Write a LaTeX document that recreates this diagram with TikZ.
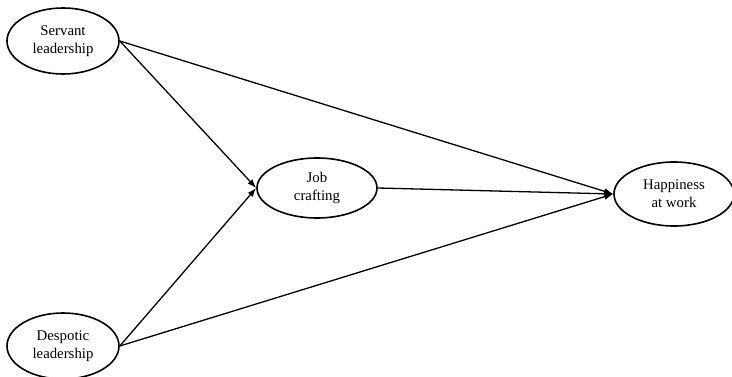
\documentclass[tikz,border=0pt]{standalone}
\usepackage{fontspec}
\setmainfont{Liberation Serif}
\usetikzlibrary{shapes.geometric,arrows.meta}
\begin{document}
\begin{tikzpicture}[x=1pt,y=-1pt,
  latent/.style={ellipse,draw,line width=1.6pt,inner sep=0pt,align=center,
    font=\fontsize{14.8}{18}\selectfont},
  path/.style={line width=1.3pt,-{Latex[length=9pt,width=6.5pt]}}]
\useasboundingbox (0,0) rectangle (732,377);
\node[latent,minimum width=112pt,minimum height=66pt] (S) at (63,41) {Servant\\leadership};
\node[latent,minimum width=112pt,minimum height=66pt] (D) at (63,346) {Despotic\\leadership};
\node[latent,minimum width=120pt,minimum height=60pt] (J) at (317,188) {Job\\crafting};
\node[latent,minimum width=120pt,minimum height=64pt] (H) at (674,194) {Happiness\\at work};
\draw[path] (S.east) -- (J.west);
\draw[path] (D.east) -- (J.west);
\draw[path] (S.east) -- (H.west);
\draw[path] (D.east) -- (H.west);
\draw[path] (J.east) -- (H.west);
\end{tikzpicture}
\end{document}
